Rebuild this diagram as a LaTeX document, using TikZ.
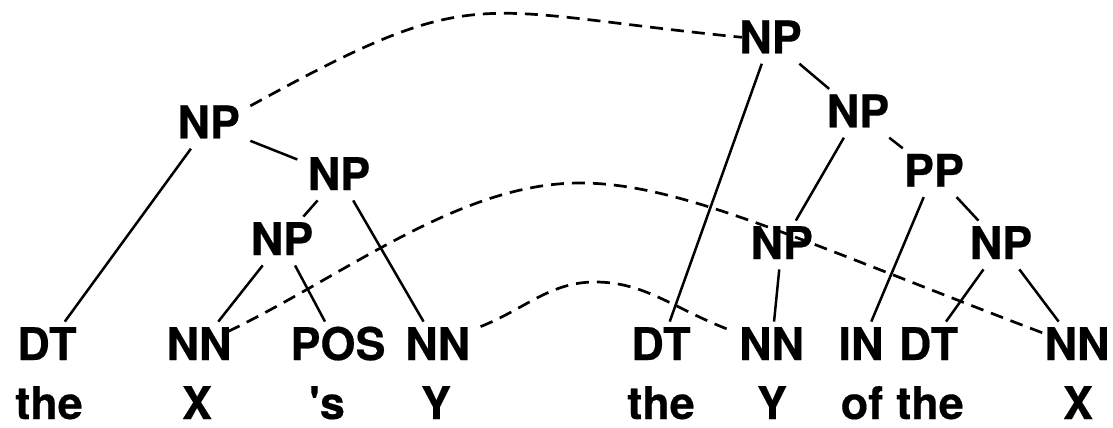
\documentclass[tikz,border=0pt]{standalone}
\usepackage{fontspec}
\newfontfamily\hv{TeX Gyre Heros}[BoldFeatures={FakeBold=0.4}]
\usetikzlibrary{calc}
\tikzset{
  lab/.style={font=\hv\bfseries\fontsize{22.5}{26}\selectfont, anchor=base,
    inner xsep=5pt, inner ysep=3.25pt, text height=15.75pt, text depth=1.75pt},
  word/.style={font=\hv\bfseries\fontsize{22.5}{26}\selectfont, anchor=base, inner sep=0pt},
  tree/.style={line width=1.25pt},
  link/.style={line width=1.35pt, dash pattern=on 6.5pt off 4pt}
}
\begin{document}
\begin{tikzpicture}[x=0.5pt,y=-0.5pt]
\useasboundingbox (0,0) rectangle (1113,428);
% phrase nodes
\node[lab] (np1) at (208.7,138.3) {NP};
\node[lab] (np2) at (339,190) {NP};
\node[lab] (np3) at (282,255) {NP};
\node[lab] (npt) at (770.5,53.3) {NP};
\node[lab] (npa) at (858,127.3) {NP};
\node[lab] (pp)  at (934,186.7) {PP};
\node[lab] (npm) at (781.7,259) {NP};
\node[lab] (npr) at (1001,259) {NP};
% tags
\node[lab] (dt1) at (47,360) {DT};
\node[lab] (nn1) at (199,360) {NN};
\node[lab] (pos) at (338,360) {POS};
\node[lab] (nn2) at (437.7,360) {NN};
\node[lab] (dt2) at (661,360) {DT};
\node[lab] (nn3) at (771.6,360) {NN};
\node[lab] (in)  at (861,360) {IN};
\node[lab] (dt3) at (928.5,360) {DT};
\node[lab] (nn4) at (1077,360) {NN};
% words
\node[word] (w1) at (49,419) {the};
\node[word] (w2) at (197,419) {X};
\node[word] (w3) at (327,419) {'s};
\node[word] (w4) at (436,419) {Y};
\node[word] (w5) at (661,419) {the};
\node[word] (w6) at (772,419) {Y};
\node[word] (w7) at (862,419) {of};
\node[word] (w8) at (930,419) {the};
\node[word] (w9) at (1078,419) {X};
% tree edges
\draw[tree] (np1) -- (dt1);
\draw[tree] (np1) -- (np2);
\draw[tree] (np2) -- (np3);
\draw[tree] (np2) -- (nn2);
\draw[tree] (np3) -- (nn1);
\draw[tree] (np3) -- (pos);
\draw[tree] (npt) -- (dt2);
\draw[tree] (npt) -- (npa);
\draw[tree] (npa) -- (npm);
\draw[tree] (npa) -- (pp);
\draw[tree] (pp) -- (in);
\draw[tree] (pp) -- (npr);
\draw[tree] (npm) -- (nn3);
\draw[tree] (npr) -- (dt3);
\draw[tree] (npr) -- (nn4);
% alignment links
\coordinate (a1) at ($(np1.north east)+(0,6)$);
\coordinate (a2) at ($(npt.west)+(13,-2)$);
\draw[link] (a1) .. controls ($(a1)+(229,-126)$) and ($(a2)+(-273,-27)$) .. (a2);
\coordinate (b1) at ($(nn1.north east)+(-14,10)$);
\coordinate (b2) at ($(nn4.north west)+(13,13)$);
\coordinate (bm) at (580,183);
\draw[link] (b1) .. controls ($(b1)+(120,-58)$) and ($(bm)+(-120,0)$) .. (bm)
  .. controls ($(bm)+(100,0)$) and ($(b2)+(-250,-95)$) .. (b2);
\coordinate (c1) at ($(nn2.north east)+(0,5)$);
\coordinate (c2) at ($(nn3.north west)+(0,8)$);
\coordinate (cm) at (595,282);
\draw[link] (c1) .. controls ($(c1)+(45,-18)$) and ($(cm)+(-45,0)$) .. (cm)
  .. controls ($(cm)+(50,0)$) and ($(c2)+(-55,-21)$) .. (c2);
\end{tikzpicture}
\end{document}
